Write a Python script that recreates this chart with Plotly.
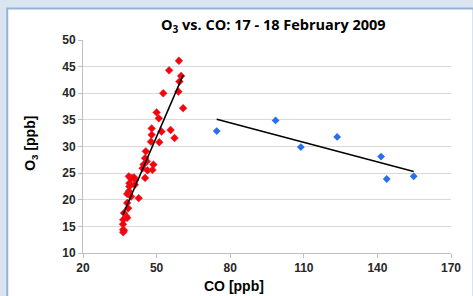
import plotly.graph_objects as go

# Red series (period 1)
red_co = [59.1, 55.1, 60.0, 59.3, 52.7, 58.9, 60.8, 50.0, 50.9, 55.7, 48.0, 52.0, 48.0, 57.3,
          47.7, 51.1, 45.6, 45.3, 46.0, 44.7, 48.7, 44.3, 46.3, 48.3, 45.3, 38.7, 40.0, 41.3,
          38.9, 41.1, 38.9, 42.7, 38.7, 38.0, 39.6, 38.0, 38.4, 36.7, 37.6, 38.0, 36.4, 36.3,
          36.4, 36.4, 36.7, 39.5, 40.8]
red_o3 = [46.1, 44.3, 43.25, 42.2, 40.0, 40.3, 37.2, 36.4, 35.3, 33.1, 33.4, 32.8, 32.2, 31.6,
          30.9, 30.8, 29.1, 27.8, 27.2, 26.6, 26.6, 25.9, 25.5, 25.6, 24.1, 24.4, 24.1, 23.75,
          23.1, 22.8, 22.5, 20.3, 21.6, 21.1, 20.6, 19.4, 18.4, 17.5, 16.9, 16.6, 16.25, 15.4,
          14.4, 13.9, 14.2, 24.0, 24.2]
red_fit_co = [36.3, 60.8]
red_fit_o3 = [17.2, 43.4]

# Blue series (period 2)
blue_co = [74.5, 98.5, 108.8, 123.6, 141.5, 143.8, 154.8]
blue_o3 = [32.9, 34.9, 29.9, 31.8, 28.1, 23.9, 24.4]
blue_fit_co = [74.5, 154.8]
blue_fit_o3 = [35.1, 25.3]

x_ticks = [20, 50, 80, 110, 140, 170]
y_ticks = [10, 15, 20, 25, 30, 35, 40, 45, 50]

L, R, T, B = 83, 16, 40, 43
W, H = 473, 296
pw, ph = W - L - R, H - T - B

def px_x(p):
    return (p - L) / pw

def px_y(p):
    return (H - B - p) / ph

tick_font = dict(family="Liberation Sans", size=12, color="#262626", weight="bold")

fig = go.Figure()
fig.add_trace(go.Scatter(x=red_co, y=red_o3, mode="markers",
                         marker=dict(symbol="diamond", size=6, color="#ff0000",
                                     line=dict(width=0.5, color="#c03060"))))
fig.add_trace(go.Scatter(x=red_fit_co, y=red_fit_o3, mode="lines",
                         line=dict(color="black", width=1.5)))
fig.add_trace(go.Scatter(x=blue_co, y=blue_o3, mode="markers",
                         marker=dict(symbol="diamond", size=6, color="#2a6ef0",
                                     line=dict(width=0))))
fig.add_trace(go.Scatter(x=blue_fit_co, y=blue_fit_o3, mode="lines",
                         line=dict(color="black", width=1.5)))

fig.add_shape(type="rect", xref="paper", yref="paper",
              x0=px_x(6), x1=px_x(480), y0=px_y(300), y1=px_y(8.5),
              fillcolor="white", line=dict(color="#95b3d7", width=2), layer="below")

fig.update_layout(
    width=W, height=H,
    margin=dict(l=L, r=R, t=T, b=B),
    paper_bgcolor="#dbe5f1", plot_bgcolor="rgba(0,0,0,0)",
    showlegend=False,
    font=dict(family="Liberation Sans", color="#262626"),
    xaxis=dict(range=[20, 170], tickvals=x_ticks, showgrid=False, zeroline=False,
               showline=True, linecolor="#bfbfbf", linewidth=1,
               ticks="outside", ticklen=4, tickcolor="#bfbfbf", tickfont=tick_font),
    yaxis=dict(range=[10, 50], tickvals=y_ticks, showgrid=True, gridcolor="#d9d9d9", gridwidth=1,
               zeroline=False, showline=True, linecolor="#bfbfbf", linewidth=1,
               ticks="outside", ticklen=4, tickcolor="#bfbfbf", tickfont=tick_font),
    annotations=[
        dict(text="<b>O<sub>3</sub> vs. CO: 17 - 18 February 2009</b>", xref="paper", yref="paper",
             x=px_x(277), y=px_y(25), showarrow=False, xanchor="center", yanchor="middle",
             font=dict(family="Open Sans", size=14.5, color="black")),
        dict(text="<b>CO [ppb]</b>", xref="paper", yref="paper",
             x=px_x(236), y=px_y(286), showarrow=False, xanchor="center", yanchor="middle",
             font=dict(family="Liberation Sans", size=14, color="black")),
        dict(text="<b>O<sub>3</sub> [ppb]</b>", xref="paper", yref="paper", textangle=-90,
             x=px_x(30), y=px_y(143), showarrow=False, xanchor="center", yanchor="middle",
             font=dict(family="Liberation Sans", size=14, color="black")),
    ],
)

fig.write_html("out.html", config={"displayModeBar": False},
               post_script="document.body.style.margin='0';document.body.style.overflow='hidden';")
